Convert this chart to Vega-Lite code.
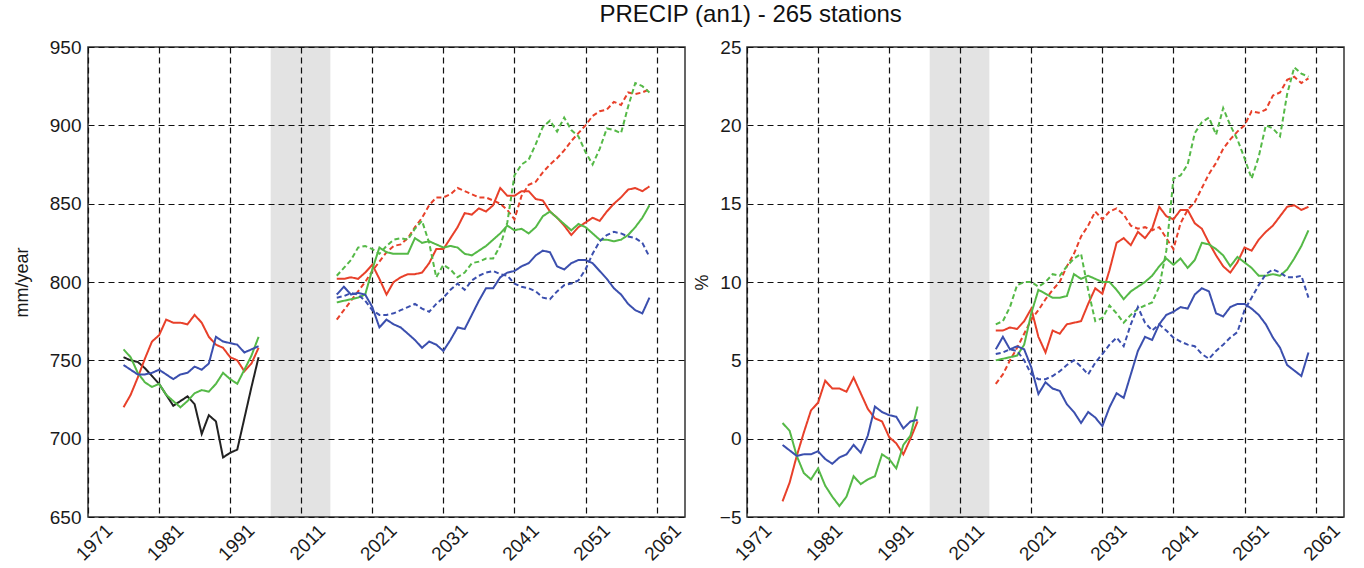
{
"$schema":"https://vega.github.io/schema/vega-lite/v6.json",
"padding":{"left":12,"top":3,"right":5,"bottom":5},
"title":{"text":"PRECIP (an1) - 265 stations","fontSize":24,"fontWeight":"normal","color":"#111","anchor":"middle","dx":72,"offset":10},
"config":{"font":"Liberation Sans","view":{"stroke":"#333","strokeWidth":1.5},
"axis":{"grid":true,"gridColor":"#111","gridDash":[6,4],"gridWidth":1.2,"gridOpacity":1,"ticks":false,"domain":false,"labelFontSize":19,"labelColor":"#1a1a1a","titleFontSize":18,"titleFontWeight":"normal","titleColor":"#1a1a1a","format":"d"}},
"spacing":6,
"datasets":{
"band":[{"x0":1996.7,"x1":2015.1}],
"mm":[
{"m":"Obs","s":"H","t":1976,"v":752},{"m":"Obs","s":"H","t":1977,"v":750},{"m":"Obs","s":"H","t":1978,"v":749},{"m":"Obs","s":"H","t":1979,"v":745},{"m":"Obs","s":"H","t":1980,"v":740},{"m":"Obs","s":"H","t":1981,"v":735},{"m":"Obs","s":"H","t":1982,"v":728},{"m":"Obs","s":"H","t":1983,"v":721},{"m":"Obs","s":"H","t":1984,"v":724},{"m":"Obs","s":"H","t":1985,"v":727},{"m":"Obs","s":"H","t":1986,"v":722},{"m":"Obs","s":"H","t":1987,"v":703},{"m":"Obs","s":"H","t":1988,"v":715},{"m":"Obs","s":"H","t":1989,"v":711},{"m":"Obs","s":"H","t":1990,"v":688},{"m":"Obs","s":"H","t":1991,"v":691},{"m":"Obs","s":"H","t":1992,"v":693},{"m":"Obs","s":"H","t":1993,"v":713},{"m":"Obs","s":"H","t":1994,"v":733},{"m":"Obs","s":"H","t":1995,"v":752},
{"m":"R","s":"H","t":1976,"v":720},{"m":"R","s":"H","t":1977,"v":728},{"m":"R","s":"H","t":1978,"v":739},{"m":"R","s":"H","t":1979,"v":751},{"m":"R","s":"H","t":1980,"v":762},{"m":"R","s":"H","t":1981,"v":766},{"m":"R","s":"H","t":1982,"v":776},{"m":"R","s":"H","t":1983,"v":774},{"m":"R","s":"H","t":1984,"v":774},{"m":"R","s":"H","t":1985,"v":773},{"m":"R","s":"H","t":1986,"v":779},{"m":"R","s":"H","t":1987,"v":774},{"m":"R","s":"H","t":1988,"v":765},{"m":"R","s":"H","t":1989,"v":760},{"m":"R","s":"H","t":1990,"v":758},{"m":"R","s":"H","t":1991,"v":752},{"m":"R","s":"H","t":1992,"v":750},{"m":"R","s":"H","t":1993,"v":743},{"m":"R","s":"H","t":1994,"v":748},{"m":"R","s":"H","t":1995,"v":758},
{"m":"G","s":"H","t":1976,"v":757},{"m":"G","s":"H","t":1977,"v":752},{"m":"G","s":"H","t":1978,"v":742},{"m":"G","s":"H","t":1979,"v":736},{"m":"G","s":"H","t":1980,"v":733},{"m":"G","s":"H","t":1981,"v":735},{"m":"G","s":"H","t":1982,"v":728},{"m":"G","s":"H","t":1983,"v":724},{"m":"G","s":"H","t":1984,"v":720},{"m":"G","s":"H","t":1985,"v":724},{"m":"G","s":"H","t":1986,"v":729},{"m":"G","s":"H","t":1987,"v":731},{"m":"G","s":"H","t":1988,"v":730},{"m":"G","s":"H","t":1989,"v":735},{"m":"G","s":"H","t":1990,"v":742},{"m":"G","s":"H","t":1991,"v":738},{"m":"G","s":"H","t":1992,"v":735},{"m":"G","s":"H","t":1993,"v":744},{"m":"G","s":"H","t":1994,"v":753},{"m":"G","s":"H","t":1995,"v":765},
{"m":"B","s":"H","t":1976,"v":747},{"m":"B","s":"H","t":1977,"v":744},{"m":"B","s":"H","t":1978,"v":741},{"m":"B","s":"H","t":1979,"v":741},{"m":"B","s":"H","t":1980,"v":742},{"m":"B","s":"H","t":1981,"v":744},{"m":"B","s":"H","t":1982,"v":741},{"m":"B","s":"H","t":1983,"v":738},{"m":"B","s":"H","t":1984,"v":741},{"m":"B","s":"H","t":1985,"v":742},{"m":"B","s":"H","t":1986,"v":746},{"m":"B","s":"H","t":1987,"v":744},{"m":"B","s":"H","t":1988,"v":748},{"m":"B","s":"H","t":1989,"v":765},{"m":"B","s":"H","t":1990,"v":762},{"m":"B","s":"H","t":1991,"v":761},{"m":"B","s":"H","t":1992,"v":760},{"m":"B","s":"H","t":1993,"v":755},{"m":"B","s":"H","t":1994,"v":757},{"m":"B","s":"H","t":1995,"v":759},
{"m":"R","s":"A","t":2016,"v":802},{"m":"R","s":"A","t":2017,"v":802},{"m":"R","s":"A","t":2018,"v":803},{"m":"R","s":"A","t":2019,"v":802},{"m":"R","s":"A","t":2020,"v":806},{"m":"R","s":"A","t":2021,"v":811},{"m":"R","s":"A","t":2022,"v":802},{"m":"R","s":"A","t":2023,"v":792},{"m":"R","s":"A","t":2024,"v":800},{"m":"R","s":"A","t":2025,"v":803},{"m":"R","s":"A","t":2026,"v":805},{"m":"R","s":"A","t":2027,"v":805},{"m":"R","s":"A","t":2028,"v":806},{"m":"R","s":"A","t":2029,"v":812},{"m":"R","s":"A","t":2030,"v":821},{"m":"R","s":"A","t":2031,"v":821},{"m":"R","s":"A","t":2032,"v":828},{"m":"R","s":"A","t":2033,"v":835},{"m":"R","s":"A","t":2034,"v":844},{"m":"R","s":"A","t":2035,"v":843},{"m":"R","s":"A","t":2036,"v":847},{"m":"R","s":"A","t":2037,"v":845},{"m":"R","s":"A","t":2038,"v":849},{"m":"R","s":"A","t":2039,"v":860},{"m":"R","s":"A","t":2040,"v":855},{"m":"R","s":"A","t":2041,"v":855},{"m":"R","s":"A","t":2042,"v":858},{"m":"R","s":"A","t":2043,"v":858},{"m":"R","s":"A","t":2044,"v":853},{"m":"R","s":"A","t":2045,"v":852},{"m":"R","s":"A","t":2046,"v":845},{"m":"R","s":"A","t":2047,"v":841},{"m":"R","s":"A","t":2048,"v":836},{"m":"R","s":"A","t":2049,"v":830},{"m":"R","s":"A","t":2050,"v":835},{"m":"R","s":"A","t":2051,"v":838},{"m":"R","s":"A","t":2052,"v":841},{"m":"R","s":"A","t":2053,"v":839},{"m":"R","s":"A","t":2054,"v":845},{"m":"R","s":"A","t":2055,"v":850},{"m":"R","s":"A","t":2056,"v":854},{"m":"R","s":"A","t":2057,"v":859},{"m":"R","s":"A","t":2058,"v":860},{"m":"R","s":"A","t":2059,"v":858},{"m":"R","s":"A","t":2060,"v":861},
{"m":"R","s":"B","t":2016,"v":776},{"m":"R","s":"B","t":2017,"v":782},{"m":"R","s":"B","t":2018,"v":788},{"m":"R","s":"B","t":2019,"v":794},{"m":"R","s":"B","t":2020,"v":800},{"m":"R","s":"B","t":2021,"v":807},{"m":"R","s":"B","t":2022,"v":813},{"m":"R","s":"B","t":2023,"v":819},{"m":"R","s":"B","t":2024,"v":823},{"m":"R","s":"B","t":2025,"v":824},{"m":"R","s":"B","t":2026,"v":828},{"m":"R","s":"B","t":2027,"v":835},{"m":"R","s":"B","t":2028,"v":841},{"m":"R","s":"B","t":2029,"v":849},{"m":"R","s":"B","t":2030,"v":854},{"m":"R","s":"B","t":2031,"v":854},{"m":"R","s":"B","t":2032,"v":856},{"m":"R","s":"B","t":2033,"v":860},{"m":"R","s":"B","t":2034,"v":858},{"m":"R","s":"B","t":2035,"v":856},{"m":"R","s":"B","t":2036,"v":854},{"m":"R","s":"B","t":2037,"v":854},{"m":"R","s":"B","t":2038,"v":852},{"m":"R","s":"B","t":2039,"v":850},{"m":"R","s":"B","t":2040,"v":846},{"m":"R","s":"B","t":2041,"v":840},{"m":"R","s":"B","t":2042,"v":855},{"m":"R","s":"B","t":2043,"v":862},{"m":"R","s":"B","t":2044,"v":864},{"m":"R","s":"B","t":2045,"v":870},{"m":"R","s":"B","t":2046,"v":875},{"m":"R","s":"B","t":2047,"v":879},{"m":"R","s":"B","t":2048,"v":884},{"m":"R","s":"B","t":2049,"v":890},{"m":"R","s":"B","t":2050,"v":895},{"m":"R","s":"B","t":2051,"v":900},{"m":"R","s":"B","t":2052,"v":906},{"m":"R","s":"B","t":2053,"v":909},{"m":"R","s":"B","t":2054,"v":910},{"m":"R","s":"B","t":2055,"v":915},{"m":"R","s":"B","t":2056,"v":913},{"m":"R","s":"B","t":2057,"v":921},{"m":"R","s":"B","t":2058,"v":920},{"m":"R","s":"B","t":2059,"v":921},{"m":"R","s":"B","t":2060,"v":923},
{"m":"G","s":"A","t":2016,"v":787},{"m":"G","s":"A","t":2017,"v":788},{"m":"G","s":"A","t":2018,"v":789},{"m":"G","s":"A","t":2019,"v":790},{"m":"G","s":"A","t":2020,"v":792},{"m":"G","s":"A","t":2021,"v":808},{"m":"G","s":"A","t":2022,"v":822},{"m":"G","s":"A","t":2023,"v":819},{"m":"G","s":"A","t":2024,"v":818},{"m":"G","s":"A","t":2025,"v":818},{"m":"G","s":"A","t":2026,"v":818},{"m":"G","s":"A","t":2027,"v":828},{"m":"G","s":"A","t":2028,"v":825},{"m":"G","s":"A","t":2029,"v":826},{"m":"G","s":"A","t":2030,"v":824},{"m":"G","s":"A","t":2031,"v":822},{"m":"G","s":"A","t":2032,"v":823},{"m":"G","s":"A","t":2033,"v":822},{"m":"G","s":"A","t":2034,"v":818},{"m":"G","s":"A","t":2035,"v":817},{"m":"G","s":"A","t":2036,"v":820},{"m":"G","s":"A","t":2037,"v":823},{"m":"G","s":"A","t":2038,"v":827},{"m":"G","s":"A","t":2039,"v":831},{"m":"G","s":"A","t":2040,"v":836},{"m":"G","s":"A","t":2041,"v":833},{"m":"G","s":"A","t":2042,"v":834},{"m":"G","s":"A","t":2043,"v":831},{"m":"G","s":"A","t":2044,"v":835},{"m":"G","s":"A","t":2045,"v":842},{"m":"G","s":"A","t":2046,"v":845},{"m":"G","s":"A","t":2047,"v":841},{"m":"G","s":"A","t":2048,"v":837},{"m":"G","s":"A","t":2049,"v":833},{"m":"G","s":"A","t":2050,"v":837},{"m":"G","s":"A","t":2051,"v":835},{"m":"G","s":"A","t":2052,"v":831},{"m":"G","s":"A","t":2053,"v":827},{"m":"G","s":"A","t":2054,"v":827},{"m":"G","s":"A","t":2055,"v":826},{"m":"G","s":"A","t":2056,"v":827},{"m":"G","s":"A","t":2057,"v":830},{"m":"G","s":"A","t":2058,"v":835},{"m":"G","s":"A","t":2059,"v":841},{"m":"G","s":"A","t":2060,"v":849},
{"m":"G","s":"B","t":2016,"v":804},{"m":"G","s":"B","t":2017,"v":809},{"m":"G","s":"B","t":2018,"v":814},{"m":"G","s":"B","t":2019,"v":822},{"m":"G","s":"B","t":2020,"v":823},{"m":"G","s":"B","t":2021,"v":821},{"m":"G","s":"B","t":2022,"v":818},{"m":"G","s":"B","t":2023,"v":823},{"m":"G","s":"B","t":2024,"v":827},{"m":"G","s":"B","t":2025,"v":828},{"m":"G","s":"B","t":2026,"v":827},{"m":"G","s":"B","t":2027,"v":834},{"m":"G","s":"B","t":2028,"v":839},{"m":"G","s":"B","t":2029,"v":825},{"m":"G","s":"B","t":2030,"v":803},{"m":"G","s":"B","t":2031,"v":811},{"m":"G","s":"B","t":2032,"v":808},{"m":"G","s":"B","t":2033,"v":803},{"m":"G","s":"B","t":2034,"v":806},{"m":"G","s":"B","t":2035,"v":812},{"m":"G","s":"B","t":2036,"v":813},{"m":"G","s":"B","t":2037,"v":815},{"m":"G","s":"B","t":2038,"v":815},{"m":"G","s":"B","t":2039,"v":823},{"m":"G","s":"B","t":2040,"v":838},{"m":"G","s":"B","t":2041,"v":868},{"m":"G","s":"B","t":2042,"v":875},{"m":"G","s":"B","t":2043,"v":878},{"m":"G","s":"B","t":2044,"v":888},{"m":"G","s":"B","t":2045,"v":899},{"m":"G","s":"B","t":2046,"v":903},{"m":"G","s":"B","t":2047,"v":896},{"m":"G","s":"B","t":2048,"v":905},{"m":"G","s":"B","t":2049,"v":897},{"m":"G","s":"B","t":2050,"v":893},{"m":"G","s":"B","t":2051,"v":883},{"m":"G","s":"B","t":2052,"v":875},{"m":"G","s":"B","t":2053,"v":885},{"m":"G","s":"B","t":2054,"v":898},{"m":"G","s":"B","t":2055,"v":897},{"m":"G","s":"B","t":2056,"v":895},{"m":"G","s":"B","t":2057,"v":912},{"m":"G","s":"B","t":2058,"v":927},{"m":"G","s":"B","t":2059,"v":925},{"m":"G","s":"B","t":2060,"v":921},
{"m":"B","s":"A","t":2016,"v":792},{"m":"B","s":"A","t":2017,"v":797},{"m":"B","s":"A","t":2018,"v":792},{"m":"B","s":"A","t":2019,"v":793},{"m":"B","s":"A","t":2020,"v":792},{"m":"B","s":"A","t":2021,"v":784},{"m":"B","s":"A","t":2022,"v":771},{"m":"B","s":"A","t":2023,"v":776},{"m":"B","s":"A","t":2024,"v":773},{"m":"B","s":"A","t":2025,"v":771},{"m":"B","s":"A","t":2026,"v":767},{"m":"B","s":"A","t":2027,"v":763},{"m":"B","s":"A","t":2028,"v":758},{"m":"B","s":"A","t":2029,"v":762},{"m":"B","s":"A","t":2030,"v":760},{"m":"B","s":"A","t":2031,"v":756},{"m":"B","s":"A","t":2032,"v":763},{"m":"B","s":"A","t":2033,"v":771},{"m":"B","s":"A","t":2034,"v":770},{"m":"B","s":"A","t":2035,"v":779},{"m":"B","s":"A","t":2036,"v":788},{"m":"B","s":"A","t":2037,"v":796},{"m":"B","s":"A","t":2038,"v":796},{"m":"B","s":"A","t":2039,"v":803},{"m":"B","s":"A","t":2040,"v":806},{"m":"B","s":"A","t":2041,"v":807},{"m":"B","s":"A","t":2042,"v":810},{"m":"B","s":"A","t":2043,"v":812},{"m":"B","s":"A","t":2044,"v":817},{"m":"B","s":"A","t":2045,"v":820},{"m":"B","s":"A","t":2046,"v":819},{"m":"B","s":"A","t":2047,"v":810},{"m":"B","s":"A","t":2048,"v":808},{"m":"B","s":"A","t":2049,"v":812},{"m":"B","s":"A","t":2050,"v":814},{"m":"B","s":"A","t":2051,"v":814},{"m":"B","s":"A","t":2052,"v":812},{"m":"B","s":"A","t":2053,"v":807},{"m":"B","s":"A","t":2054,"v":802},{"m":"B","s":"A","t":2055,"v":796},{"m":"B","s":"A","t":2056,"v":792},{"m":"B","s":"A","t":2057,"v":786},{"m":"B","s":"A","t":2058,"v":782},{"m":"B","s":"A","t":2059,"v":780},{"m":"B","s":"A","t":2060,"v":790},
{"m":"B","s":"B","t":2016,"v":790},{"m":"B","s":"B","t":2017,"v":791},{"m":"B","s":"B","t":2018,"v":793},{"m":"B","s":"B","t":2019,"v":792},{"m":"B","s":"B","t":2020,"v":788},{"m":"B","s":"B","t":2021,"v":782},{"m":"B","s":"B","t":2022,"v":779},{"m":"B","s":"B","t":2023,"v":779},{"m":"B","s":"B","t":2024,"v":780},{"m":"B","s":"B","t":2025,"v":782},{"m":"B","s":"B","t":2026,"v":784},{"m":"B","s":"B","t":2027,"v":786},{"m":"B","s":"B","t":2028,"v":783},{"m":"B","s":"B","t":2029,"v":781},{"m":"B","s":"B","t":2030,"v":786},{"m":"B","s":"B","t":2031,"v":790},{"m":"B","s":"B","t":2032,"v":795},{"m":"B","s":"B","t":2033,"v":799},{"m":"B","s":"B","t":2034,"v":795},{"m":"B","s":"B","t":2035,"v":801},{"m":"B","s":"B","t":2036,"v":804},{"m":"B","s":"B","t":2037,"v":806},{"m":"B","s":"B","t":2038,"v":807},{"m":"B","s":"B","t":2039,"v":805},{"m":"B","s":"B","t":2040,"v":804},{"m":"B","s":"B","t":2041,"v":799},{"m":"B","s":"B","t":2042,"v":797},{"m":"B","s":"B","t":2043,"v":796},{"m":"B","s":"B","t":2044,"v":794},{"m":"B","s":"B","t":2045,"v":790},{"m":"B","s":"B","t":2046,"v":789},{"m":"B","s":"B","t":2047,"v":794},{"m":"B","s":"B","t":2048,"v":798},{"m":"B","s":"B","t":2049,"v":799},{"m":"B","s":"B","t":2050,"v":801},{"m":"B","s":"B","t":2051,"v":808},{"m":"B","s":"B","t":2052,"v":818},{"m":"B","s":"B","t":2053,"v":826},{"m":"B","s":"B","t":2054,"v":830},{"m":"B","s":"B","t":2055,"v":832},{"m":"B","s":"B","t":2056,"v":831},{"m":"B","s":"B","t":2057,"v":829},{"m":"B","s":"B","t":2058,"v":828},{"m":"B","s":"B","t":2059,"v":825},{"m":"B","s":"B","t":2060,"v":816}
],
"pct":[
{"m":"R","s":"H","t":1976,"v":-4.0},{"m":"R","s":"H","t":1977,"v":-2.8},{"m":"R","s":"H","t":1978,"v":-1.1},{"m":"R","s":"H","t":1979,"v":0.4},{"m":"R","s":"H","t":1980,"v":1.8},{"m":"R","s":"H","t":1981,"v":2.3},{"m":"R","s":"H","t":1982,"v":3.7},{"m":"R","s":"H","t":1983,"v":3.2},{"m":"R","s":"H","t":1984,"v":3.2},{"m":"R","s":"H","t":1985,"v":3.0},{"m":"R","s":"H","t":1986,"v":3.9},{"m":"R","s":"H","t":1987,"v":2.9},{"m":"R","s":"H","t":1988,"v":1.9},{"m":"R","s":"H","t":1989,"v":1.3},{"m":"R","s":"H","t":1990,"v":1.1},{"m":"R","s":"H","t":1991,"v":0.1},{"m":"R","s":"H","t":1992,"v":-0.3},{"m":"R","s":"H","t":1993,"v":-1.0},{"m":"R","s":"H","t":1994,"v":0.0},{"m":"R","s":"H","t":1995,"v":1.1},
{"m":"G","s":"H","t":1976,"v":1.0},{"m":"G","s":"H","t":1977,"v":0.5},{"m":"G","s":"H","t":1978,"v":-1.1},{"m":"G","s":"H","t":1979,"v":-2.2},{"m":"G","s":"H","t":1980,"v":-2.6},{"m":"G","s":"H","t":1981,"v":-1.9},{"m":"G","s":"H","t":1982,"v":-3.0},{"m":"G","s":"H","t":1983,"v":-3.7},{"m":"G","s":"H","t":1984,"v":-4.3},{"m":"G","s":"H","t":1985,"v":-3.7},{"m":"G","s":"H","t":1986,"v":-2.4},{"m":"G","s":"H","t":1987,"v":-2.9},{"m":"G","s":"H","t":1988,"v":-2.6},{"m":"G","s":"H","t":1989,"v":-2.4},{"m":"G","s":"H","t":1990,"v":-1.0},{"m":"G","s":"H","t":1991,"v":-1.3},{"m":"G","s":"H","t":1992,"v":-1.9},{"m":"G","s":"H","t":1993,"v":-0.4},{"m":"G","s":"H","t":1994,"v":0.2},{"m":"G","s":"H","t":1995,"v":2.05},
{"m":"B","s":"H","t":1976,"v":-0.4},{"m":"B","s":"H","t":1977,"v":-0.75},{"m":"B","s":"H","t":1978,"v":-1.1},{"m":"B","s":"H","t":1979,"v":-1.0},{"m":"B","s":"H","t":1980,"v":-1.0},{"m":"B","s":"H","t":1981,"v":-0.8},{"m":"B","s":"H","t":1982,"v":-1.3},{"m":"B","s":"H","t":1983,"v":-1.6},{"m":"B","s":"H","t":1984,"v":-1.2},{"m":"B","s":"H","t":1985,"v":-1.0},{"m":"B","s":"H","t":1986,"v":-0.4},{"m":"B","s":"H","t":1987,"v":-0.9},{"m":"B","s":"H","t":1988,"v":0.2},{"m":"B","s":"H","t":1989,"v":2.05},{"m":"B","s":"H","t":1990,"v":1.7},{"m":"B","s":"H","t":1991,"v":1.5},{"m":"B","s":"H","t":1992,"v":1.4},{"m":"B","s":"H","t":1993,"v":0.65},{"m":"B","s":"H","t":1994,"v":1.1},{"m":"B","s":"H","t":1995,"v":1.2},
{"m":"R","s":"A","t":2016,"v":6.9},{"m":"R","s":"A","t":2017,"v":6.9},{"m":"R","s":"A","t":2018,"v":7.1},{"m":"R","s":"A","t":2019,"v":7.0},{"m":"R","s":"A","t":2020,"v":7.5},{"m":"R","s":"A","t":2021,"v":8.3},{"m":"R","s":"A","t":2022,"v":6.5},{"m":"R","s":"A","t":2023,"v":5.5},{"m":"R","s":"A","t":2024,"v":6.9},{"m":"R","s":"A","t":2025,"v":6.7},{"m":"R","s":"A","t":2026,"v":7.3},{"m":"R","s":"A","t":2027,"v":7.4},{"m":"R","s":"A","t":2028,"v":7.5},{"m":"R","s":"A","t":2029,"v":8.6},{"m":"R","s":"A","t":2030,"v":9.6},{"m":"R","s":"A","t":2031,"v":9.25},{"m":"R","s":"A","t":2032,"v":10.75},{"m":"R","s":"A","t":2033,"v":12.5},{"m":"R","s":"A","t":2034,"v":12.8},{"m":"R","s":"A","t":2035,"v":12.35},{"m":"R","s":"A","t":2036,"v":13.2},{"m":"R","s":"A","t":2037,"v":12.8},{"m":"R","s":"A","t":2038,"v":13.4},{"m":"R","s":"A","t":2039,"v":14.8},{"m":"R","s":"A","t":2040,"v":14.2},{"m":"R","s":"A","t":2041,"v":14.0},{"m":"R","s":"A","t":2042,"v":14.6},{"m":"R","s":"A","t":2043,"v":14.6},{"m":"R","s":"A","t":2044,"v":13.75},{"m":"R","s":"A","t":2045,"v":13.4},{"m":"R","s":"A","t":2046,"v":12.5},{"m":"R","s":"A","t":2047,"v":11.7},{"m":"R","s":"A","t":2048,"v":11.0},{"m":"R","s":"A","t":2049,"v":10.6},{"m":"R","s":"A","t":2050,"v":11.25},{"m":"R","s":"A","t":2051,"v":12.2},{"m":"R","s":"A","t":2052,"v":12.0},{"m":"R","s":"A","t":2053,"v":12.7},{"m":"R","s":"A","t":2054,"v":13.2},{"m":"R","s":"A","t":2055,"v":13.6},{"m":"R","s":"A","t":2056,"v":14.2},{"m":"R","s":"A","t":2057,"v":14.8},{"m":"R","s":"A","t":2058,"v":14.9},{"m":"R","s":"A","t":2059,"v":14.6},{"m":"R","s":"A","t":2060,"v":14.8},
{"m":"R","s":"B","t":2016,"v":3.5},{"m":"R","s":"B","t":2017,"v":4.1},{"m":"R","s":"B","t":2018,"v":5.0},{"m":"R","s":"B","t":2019,"v":5.8},{"m":"R","s":"B","t":2020,"v":6.7},{"m":"R","s":"B","t":2021,"v":7.6},{"m":"R","s":"B","t":2022,"v":8.2},{"m":"R","s":"B","t":2023,"v":8.9},{"m":"R","s":"B","t":2024,"v":9.5},{"m":"R","s":"B","t":2025,"v":10.0},{"m":"R","s":"B","t":2026,"v":11.0},{"m":"R","s":"B","t":2027,"v":11.8},{"m":"R","s":"B","t":2028,"v":12.9},{"m":"R","s":"B","t":2029,"v":13.6},{"m":"R","s":"B","t":2030,"v":14.5},{"m":"R","s":"B","t":2031,"v":14.0},{"m":"R","s":"B","t":2032,"v":14.5},{"m":"R","s":"B","t":2033,"v":14.7},{"m":"R","s":"B","t":2034,"v":14.3},{"m":"R","s":"B","t":2035,"v":13.6},{"m":"R","s":"B","t":2036,"v":13.4},{"m":"R","s":"B","t":2037,"v":13.5},{"m":"R","s":"B","t":2038,"v":13.3},{"m":"R","s":"B","t":2039,"v":13.5},{"m":"R","s":"B","t":2040,"v":12.8},{"m":"R","s":"B","t":2041,"v":12.1},{"m":"R","s":"B","t":2042,"v":13.75},{"m":"R","s":"B","t":2043,"v":14.6},{"m":"R","s":"B","t":2044,"v":15.1},{"m":"R","s":"B","t":2045,"v":16.0},{"m":"R","s":"B","t":2046,"v":16.9},{"m":"R","s":"B","t":2047,"v":17.6},{"m":"R","s":"B","t":2048,"v":18.5},{"m":"R","s":"B","t":2049,"v":19.1},{"m":"R","s":"B","t":2050,"v":19.6},{"m":"R","s":"B","t":2051,"v":20.0},{"m":"R","s":"B","t":2052,"v":20.9},{"m":"R","s":"B","t":2053,"v":20.8},{"m":"R","s":"B","t":2054,"v":21.0},{"m":"R","s":"B","t":2055,"v":21.9},{"m":"R","s":"B","t":2056,"v":22.1},{"m":"R","s":"B","t":2057,"v":22.9},{"m":"R","s":"B","t":2058,"v":23.1},{"m":"R","s":"B","t":2059,"v":22.7},{"m":"R","s":"B","t":2060,"v":23.0},
{"m":"G","s":"A","t":2016,"v":5.0},{"m":"G","s":"A","t":2017,"v":5.1},{"m":"G","s":"A","t":2018,"v":5.2},{"m":"G","s":"A","t":2019,"v":5.3},{"m":"G","s":"A","t":2020,"v":6.0},{"m":"G","s":"A","t":2021,"v":8.0},{"m":"G","s":"A","t":2022,"v":9.5},{"m":"G","s":"A","t":2023,"v":9.25},{"m":"G","s":"A","t":2024,"v":9.0},{"m":"G","s":"A","t":2025,"v":9.0},{"m":"G","s":"A","t":2026,"v":9.1},{"m":"G","s":"A","t":2027,"v":10.5},{"m":"G","s":"A","t":2028,"v":10.2},{"m":"G","s":"A","t":2029,"v":10.4},{"m":"G","s":"A","t":2030,"v":10.2},{"m":"G","s":"A","t":2031,"v":10.0},{"m":"G","s":"A","t":2032,"v":10.0},{"m":"G","s":"A","t":2033,"v":9.5},{"m":"G","s":"A","t":2034,"v":8.9},{"m":"G","s":"A","t":2035,"v":9.4},{"m":"G","s":"A","t":2036,"v":9.7},{"m":"G","s":"A","t":2037,"v":10.0},{"m":"G","s":"A","t":2038,"v":10.4},{"m":"G","s":"A","t":2039,"v":11.0},{"m":"G","s":"A","t":2040,"v":11.5},{"m":"G","s":"A","t":2041,"v":11.1},{"m":"G","s":"A","t":2042,"v":11.5},{"m":"G","s":"A","t":2043,"v":10.9},{"m":"G","s":"A","t":2044,"v":11.4},{"m":"G","s":"A","t":2045,"v":12.5},{"m":"G","s":"A","t":2046,"v":12.4},{"m":"G","s":"A","t":2047,"v":12.1},{"m":"G","s":"A","t":2048,"v":11.7},{"m":"G","s":"A","t":2049,"v":11.0},{"m":"G","s":"A","t":2050,"v":11.6},{"m":"G","s":"A","t":2051,"v":11.25},{"m":"G","s":"A","t":2052,"v":10.9},{"m":"G","s":"A","t":2053,"v":10.4},{"m":"G","s":"A","t":2054,"v":10.4},{"m":"G","s":"A","t":2055,"v":10.5},{"m":"G","s":"A","t":2056,"v":10.4},{"m":"G","s":"A","t":2057,"v":10.8},{"m":"G","s":"A","t":2058,"v":11.5},{"m":"G","s":"A","t":2059,"v":12.3},{"m":"G","s":"A","t":2060,"v":13.3},
{"m":"G","s":"B","t":2016,"v":7.3},{"m":"G","s":"B","t":2017,"v":7.5},{"m":"G","s":"B","t":2018,"v":8.4},{"m":"G","s":"B","t":2019,"v":9.8},{"m":"G","s":"B","t":2020,"v":10.0},{"m":"G","s":"B","t":2021,"v":10.0},{"m":"G","s":"B","t":2022,"v":9.7},{"m":"G","s":"B","t":2023,"v":10.0},{"m":"G","s":"B","t":2024,"v":10.5},{"m":"G","s":"B","t":2025,"v":10.4},{"m":"G","s":"B","t":2026,"v":11.0},{"m":"G","s":"B","t":2027,"v":11.5},{"m":"G","s":"B","t":2028,"v":11.8},{"m":"G","s":"B","t":2029,"v":9.5},{"m":"G","s":"B","t":2030,"v":7.5},{"m":"G","s":"B","t":2031,"v":7.7},{"m":"G","s":"B","t":2032,"v":8.5},{"m":"G","s":"B","t":2033,"v":8.0},{"m":"G","s":"B","t":2034,"v":7.4},{"m":"G","s":"B","t":2035,"v":7.9},{"m":"G","s":"B","t":2036,"v":8.3},{"m":"G","s":"B","t":2037,"v":8.5},{"m":"G","s":"B","t":2038,"v":8.7},{"m":"G","s":"B","t":2039,"v":9.7},{"m":"G","s":"B","t":2040,"v":12.0},{"m":"G","s":"B","t":2041,"v":16.6},{"m":"G","s":"B","t":2042,"v":16.8},{"m":"G","s":"B","t":2043,"v":17.5},{"m":"G","s":"B","t":2044,"v":19.5},{"m":"G","s":"B","t":2045,"v":20.2},{"m":"G","s":"B","t":2046,"v":20.5},{"m":"G","s":"B","t":2047,"v":19.4},{"m":"G","s":"B","t":2048,"v":21.1},{"m":"G","s":"B","t":2049,"v":20.0},{"m":"G","s":"B","t":2050,"v":19.1},{"m":"G","s":"B","t":2051,"v":17.9},{"m":"G","s":"B","t":2052,"v":16.6},{"m":"G","s":"B","t":2053,"v":18.0},{"m":"G","s":"B","t":2054,"v":20.0},{"m":"G","s":"B","t":2055,"v":19.8},{"m":"G","s":"B","t":2056,"v":19.3},{"m":"G","s":"B","t":2057,"v":22.0},{"m":"G","s":"B","t":2058,"v":23.7},{"m":"G","s":"B","t":2059,"v":23.3},{"m":"G","s":"B","t":2060,"v":23.1},
{"m":"B","s":"A","t":2016,"v":5.7},{"m":"B","s":"A","t":2017,"v":6.5},{"m":"B","s":"A","t":2018,"v":5.7},{"m":"B","s":"A","t":2019,"v":5.9},{"m":"B","s":"A","t":2020,"v":5.7},{"m":"B","s":"A","t":2021,"v":4.55},{"m":"B","s":"A","t":2022,"v":2.85},{"m":"B","s":"A","t":2023,"v":3.6},{"m":"B","s":"A","t":2024,"v":3.2},{"m":"B","s":"A","t":2025,"v":3.05},{"m":"B","s":"A","t":2026,"v":2.2},{"m":"B","s":"A","t":2027,"v":1.7},{"m":"B","s":"A","t":2028,"v":1.0},{"m":"B","s":"A","t":2029,"v":1.7},{"m":"B","s":"A","t":2030,"v":1.35},{"m":"B","s":"A","t":2031,"v":0.8},{"m":"B","s":"A","t":2032,"v":2.0},{"m":"B","s":"A","t":2033,"v":2.9},{"m":"B","s":"A","t":2034,"v":2.6},{"m":"B","s":"A","t":2035,"v":4.1},{"m":"B","s":"A","t":2036,"v":5.6},{"m":"B","s":"A","t":2037,"v":6.5},{"m":"B","s":"A","t":2038,"v":6.3},{"m":"B","s":"A","t":2039,"v":7.3},{"m":"B","s":"A","t":2040,"v":7.9},{"m":"B","s":"A","t":2041,"v":8.1},{"m":"B","s":"A","t":2042,"v":8.4},{"m":"B","s":"A","t":2043,"v":8.3},{"m":"B","s":"A","t":2044,"v":9.2},{"m":"B","s":"A","t":2045,"v":9.6},{"m":"B","s":"A","t":2046,"v":9.4},{"m":"B","s":"A","t":2047,"v":8.0},{"m":"B","s":"A","t":2048,"v":7.8},{"m":"B","s":"A","t":2049,"v":8.4},{"m":"B","s":"A","t":2050,"v":8.6},{"m":"B","s":"A","t":2051,"v":8.6},{"m":"B","s":"A","t":2052,"v":8.3},{"m":"B","s":"A","t":2053,"v":7.9},{"m":"B","s":"A","t":2054,"v":7.3},{"m":"B","s":"A","t":2055,"v":6.45},{"m":"B","s":"A","t":2056,"v":5.8},{"m":"B","s":"A","t":2057,"v":4.7},{"m":"B","s":"A","t":2058,"v":4.35},{"m":"B","s":"A","t":2059,"v":4.0},{"m":"B","s":"A","t":2060,"v":5.5},
{"m":"B","s":"B","t":2016,"v":5.4},{"m":"B","s":"B","t":2017,"v":5.5},{"m":"B","s":"B","t":2018,"v":5.7},{"m":"B","s":"B","t":2019,"v":5.6},{"m":"B","s":"B","t":2020,"v":5.0},{"m":"B","s":"B","t":2021,"v":4.1},{"m":"B","s":"B","t":2022,"v":3.8},{"m":"B","s":"B","t":2023,"v":3.8},{"m":"B","s":"B","t":2024,"v":4.0},{"m":"B","s":"B","t":2025,"v":4.3},{"m":"B","s":"B","t":2026,"v":4.7},{"m":"B","s":"B","t":2027,"v":5.0},{"m":"B","s":"B","t":2028,"v":4.6},{"m":"B","s":"B","t":2029,"v":4.1},{"m":"B","s":"B","t":2030,"v":4.85},{"m":"B","s":"B","t":2031,"v":5.4},{"m":"B","s":"B","t":2032,"v":6.0},{"m":"B","s":"B","t":2033,"v":6.45},{"m":"B","s":"B","t":2034,"v":5.9},{"m":"B","s":"B","t":2035,"v":7.3},{"m":"B","s":"B","t":2036,"v":8.4},{"m":"B","s":"B","t":2037,"v":7.4},{"m":"B","s":"B","t":2038,"v":6.9},{"m":"B","s":"B","t":2039,"v":7.3},{"m":"B","s":"B","t":2040,"v":6.9},{"m":"B","s":"B","t":2041,"v":6.45},{"m":"B","s":"B","t":2042,"v":6.2},{"m":"B","s":"B","t":2043,"v":6.0},{"m":"B","s":"B","t":2044,"v":5.9},{"m":"B","s":"B","t":2045,"v":5.4},{"m":"B","s":"B","t":2046,"v":5.1},{"m":"B","s":"B","t":2047,"v":5.6},{"m":"B","s":"B","t":2048,"v":6.0},{"m":"B","s":"B","t":2049,"v":6.45},{"m":"B","s":"B","t":2050,"v":6.8},{"m":"B","s":"B","t":2051,"v":8.2},{"m":"B","s":"B","t":2052,"v":9.0},{"m":"B","s":"B","t":2053,"v":9.8},{"m":"B","s":"B","t":2054,"v":10.5},{"m":"B","s":"B","t":2055,"v":10.8},{"m":"B","s":"B","t":2056,"v":10.6},{"m":"B","s":"B","t":2057,"v":10.3},{"m":"B","s":"B","t":2058,"v":10.3},{"m":"B","s":"B","t":2059,"v":10.4},{"m":"B","s":"B","t":2060,"v":9.0}
]},
"hconcat":[
{"width":597,"height":470,
"layer":[
{"data":{"name":"band"},"mark":{"type":"rect","color":"#000","opacity":0.11},
"encoding":{"x":{"field":"x0","type":"quantitative","scale":{"domain":[1971,1997,2007,2065],"range":[0,184.8,184.8,597],"nice":false,"zero":false},"axis":{"values":[1971,1981,1991,2011,2021,2031,2041,2051,2061],"labelAngle":-45,"labelAlign":"center","labelBaseline":"middle","labelPadding":25,"labelOffset":6,"title":null}},"x2":{"field":"x1"}}},
{"data":{"name":"mm"},"mark":{"type":"line","strokeWidth":2,"clip":true},
"encoding":{
"x":{"field":"t","type":"quantitative","scale":{"domain":[1971,1997,2007,2065],"range":[0,184.8,184.8,597],"nice":false,"zero":false},"axis":{"values":[1971,1981,1991,2011,2021,2031,2041,2051,2061],"labelAngle":-45,"labelAlign":"center","labelBaseline":"middle","labelPadding":25,"labelOffset":6,"title":null}},
"y":{"field":"v","type":"quantitative","scale":{"domain":[650,950],"nice":false,"zero":false},"axis":{"values":[650,700,750,800,850,900,950],"title":"mm/year","labelPadding":7,"titlePadding":18}},
"color":{"field":"m","type":"nominal","scale":{"domain":["Obs","R","G","B"],"range":["#222222","#e8402a","#55b947","#3b4fae"]},"legend":null},
"strokeDash":{"field":"s","type":"nominal","scale":{"domain":["H","A","B"],"range":[[1,0],[1,0],[5,3]]},"legend":null}}}
]},
{"width":597,"height":470,
"layer":[
{"data":{"name":"band"},"mark":{"type":"rect","color":"#000","opacity":0.11},
"encoding":{"x":{"field":"x0","type":"quantitative","scale":{"domain":[1971,1997,2007,2065],"range":[0,184.8,184.8,597],"nice":false,"zero":false},"axis":{"values":[1971,1981,1991,2011,2021,2031,2041,2051,2061],"labelAngle":-45,"labelAlign":"center","labelBaseline":"middle","labelPadding":25,"labelOffset":6,"title":null}},"x2":{"field":"x1"}}},
{"data":{"name":"pct"},"mark":{"type":"line","strokeWidth":2,"clip":true},
"encoding":{
"x":{"field":"t","type":"quantitative","scale":{"domain":[1971,1997,2007,2065],"range":[0,184.8,184.8,597],"nice":false,"zero":false},"axis":{"values":[1971,1981,1991,2011,2021,2031,2041,2051,2061],"labelAngle":-45,"labelAlign":"center","labelBaseline":"middle","labelPadding":25,"labelOffset":6,"title":null}},
"y":{"field":"v","type":"quantitative","scale":{"domain":[-5,25],"nice":false,"zero":false},"axis":{"values":[-5,0,5,10,15,20,25],"title":"%","labelPadding":6,"titlePadding":8}},
"color":{"field":"m","type":"nominal","scale":{"domain":["Obs","R","G","B"],"range":["#222222","#e8402a","#55b947","#3b4fae"]},"legend":null},
"strokeDash":{"field":"s","type":"nominal","scale":{"domain":["H","A","B"],"range":[[1,0],[1,0],[5,3]]},"legend":null}}}
]}
]
}
